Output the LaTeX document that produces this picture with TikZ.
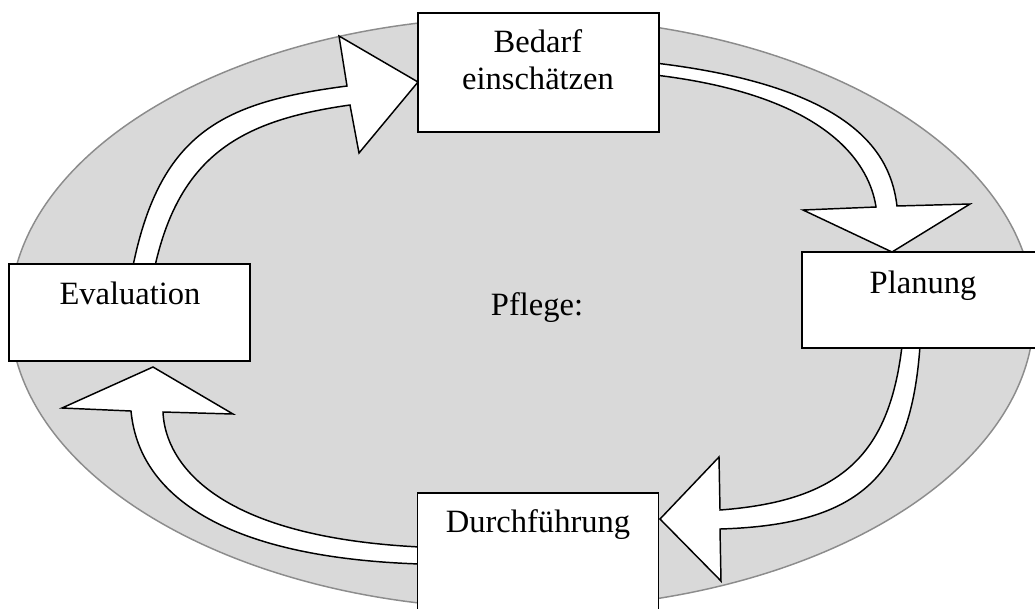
\documentclass[tikz,border=0pt]{standalone}
\usepackage{fontspec}
\setmainfont{Liberation Serif}
\definecolor{discfill}{HTML}{D9D9D9}
\definecolor{discline}{HTML}{8C8C8C}
\begin{document}
\begin{tikzpicture}[x=0.75pt,y=-0.75pt,
  box/.style={draw=black, fill=white, line width=1.3pt, rectangle,
              inner sep=0pt, outer sep=0pt, minimum width=180.75pt},
  lbl/.style={font=\fontsize{24.4}{28}\selectfont, anchor=base, inner sep=0pt},
  blockarrow/.style={fill=white, draw=black, line width=1.1pt, line join=miter}]
\clip (0,0) rectangle (1035,608);

% background disc
\draw[fill=discfill, draw=discline, line width=1.1pt]
  (522,313) ellipse [x radius=384pt, y radius=222pt];

% curved block arrows of the cycle
% Evaluation -> Bedarf einschaetzen
\filldraw[blockarrow]
  (133,266) .. controls (160.7,130.1) and (225.8,101.9) .. (347,86)
  -- (339,36) -- (418,82) -- (359,153) -- (350,105)
  .. controls (243.2,120.1) and (180.4,153.6) .. (155,266) -- cycle;
% Bedarf einschaetzen -> Planung
\filldraw[blockarrow]
  (655,63) .. controls (858.3,87.2) and (891,156.5) .. (897,206)
  -- (970,204) -- (892,252) -- (803,210) -- (876,207)
  .. controls (871.7,178.8) and (847.2,97.8) .. (655,75) -- cycle;
% Planung -> Durchfuehrung
\filldraw[blockarrow]
  (920,346) .. controls (910.9,474.3) and (862.5,524.7) .. (720,529)
  -- (721,581) -- (660,519) -- (719,457) -- (720,510)
  .. controls (839.7,501) and (888.9,456.3) .. (902,346) -- cycle;
% Durchfuehrung -> Evaluation
\filldraw[blockarrow]
  (420,564) .. controls (156.4,555.3) and (134.7,447.7) .. (131,411)
  -- (62,408) -- (153,367) -- (233,414) -- (163,412)
  .. controls (163.8,428.5) and (169.9,534.5) .. (420,547) -- cycle;

% step boxes
\node[box, minimum height=89.25pt] (bedarf)     at (538.5,72.5) {};
\node[box, minimum height=72pt]    (planung)    at (922.5,300)  {};
\node[box, minimum height=72.75pt] (evaluation) at (129.5,312.5) {};
\node[box, minimum height=89.25pt] (durch)      at (538,552.5)  {};

% labels
\node[lbl] (bedarf1) at (538,52)  {Bedarf};
\node[lbl] (bedarf2) at (538,89)  {einschätzen};
\node[lbl] (plan)    at (923,293) {Planung};
\node[lbl] (eval)    at (130,304) {Evaluation};
\node[lbl] (durchf)  at (538,532) {Durchführung};
\node[lbl] (pflege)  at (537,315) {Pflege:};
\end{tikzpicture}
\end{document}
